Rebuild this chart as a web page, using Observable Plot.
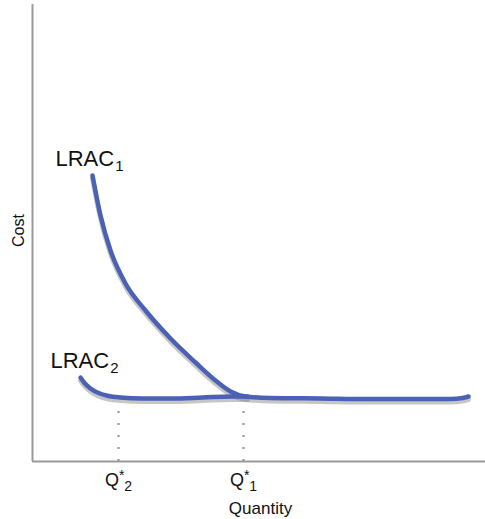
<!DOCTYPE html>
<html>
<head>
<meta charset="utf-8">
<script src="https://cdn.jsdelivr.net/npm/d3@7"></script>
<script src="https://cdn.jsdelivr.net/npm/@observablehq/plot@0.6"></script>
<style>
  html, body { margin: 0; padding: 0; background: #fff; }
  #chart svg { display: block; }
</style>
</head>
<body>
<div id="chart"></div>
<script>
// Quantity (x) and cost (y) in arbitrary chart units
const lrac1Q = [60, 68, 78, 93, 113, 138, 163, 183, 198, 213, 238, 288, 338, 388, 418, 430, 436];
const lrac1C = [286, 246, 211, 178, 151, 123, 99, 81, 70, 65, 63.5, 63, 62.5, 62.5, 62.5, 63.5, 65];
const lrac2Q = [48, 52, 58, 66, 76, 88, 110, 140, 170, 200, 215];
const lrac2C = [84, 78.5, 73, 68.5, 65.5, 64, 63, 63, 64, 65, 65];
const qStar = [86, 211];            // Q*2, Q*1
const qStarNames = ["2", "1"];
const guideTop = 60;

const curveLabels = [
  {name: "LRAC", sub: "1", q: 23, c: 296},
  {name: "LRAC", sub: "2", q: 18, c: 94}
];

const lrac1 = lrac1Q.map((q, i) => ({q, c: lrac1C[i]}));
const lrac2 = lrac2Q.map((q, i) => ({q, c: lrac2C[i]}));
const guides = qStar.map((q, i) => ({q, name: qStarNames[i]}));

const blue = "#4a61b6";
const font = "'Liberation Sans', Arial, Helvetica, sans-serif";

const plot = Plot.plot({
  width: 485,
  height: 519,
  marginLeft: 32,
  marginRight: 0,
  marginTop: 4,
  marginBottom: 58,
  x: {domain: [0, 453], axis: null},
  y: {domain: [0, 457], axis: null},
  style: {fontFamily: font, background: "white", overflow: "visible"},
  marks: [
    // dotted guides
    Plot.ruleX(guides, {x: "q", y1: 0, y2: guideTop, stroke: "#a0a0a0", strokeWidth: 2.4, strokeDasharray: "2,10"}),
    // axes
    Plot.ruleX([0], {stroke: "#9a9a9a", strokeWidth: 2}),
    Plot.ruleY([0], {stroke: "#9a9a9a", strokeWidth: 2}),
    // shadows
    Plot.line(lrac2, {x: "q", y: "c", curve: "monotone-x", stroke: "#808080", strokeOpacity: 0.45, strokeWidth: 5, dy: 3}),
    Plot.line(lrac1, {x: "q", y: "c", curve: "monotone-x", stroke: "#808080", strokeOpacity: 0.45, strokeWidth: 5, dy: 3}),
    // curves
    Plot.line(lrac2, {x: "q", y: "c", curve: "monotone-x", stroke: blue, strokeWidth: 4.5, strokeLinecap: "round"}),
    Plot.line(lrac1, {x: "q", y: "c", curve: "monotone-x", stroke: blue, strokeWidth: 4.5, strokeLinecap: "round"}),
    // curve labels
    Plot.text(curveLabels, {x: "q", y: "c", text: d => d.name + "|" + d.sub, textAnchor: "start", lineAnchor: "bottom", fontSize: 22, fill: "#111"}),
    // Q* labels
    Plot.text(guides, {x: "q", y: -24, text: d => "Q|*|" + d.name, textAnchor: "middle", lineAnchor: "bottom", fontSize: 18, fill: "#111"}),
    // axis titles
    Plot.text(["Quantity"], {x: 228, y: -52, text: d => d, textAnchor: "middle", lineAnchor: "bottom", fontSize: 17, fill: "#111"}),
    Plot.text(["Cost"], {x: -14, y: 231, text: d => d, rotate: -90, textAnchor: "middle", lineAnchor: "middle", fontSize: 16, fill: "#111"})
  ]
});

// turn "base|sub" or "base|sup|sub" into tspans with sub/superscripts
plot.querySelectorAll("text").forEach(t => {
  const s = t.textContent;
  if (!s.includes("|")) return;
  const parts = s.split("|");
  const fs = parseFloat(t.getAttribute("font-size") || t.parentNode.getAttribute("font-size") || 16);
  t.textContent = "";
  const ns = "http://www.w3.org/2000/svg";
  const base = document.createElementNS(ns, "tspan");
  base.textContent = parts[0];
  t.appendChild(base);
  if (parts.length === 2) {
    const sub = document.createElementNS(ns, "tspan");
    sub.textContent = parts[1];
    sub.setAttribute("font-size", Math.round(fs * 0.7));
    sub.setAttribute("dy", (fs * 0.25).toFixed(1));
    sub.setAttribute("dx", "1");
    t.appendChild(sub);
  } else {
    const sup = document.createElementNS(ns, "tspan");
    sup.textContent = parts[1];
    sup.setAttribute("font-size", Math.round(fs * 0.75));
    sup.setAttribute("dy", (-fs * 0.3).toFixed(1));
    t.appendChild(sup);
    const sub = document.createElementNS(ns, "tspan");
    sub.textContent = parts[2];
    sub.setAttribute("font-size", Math.round(fs * 0.75));
    sub.setAttribute("dy", (fs * 0.6).toFixed(1));
    t.appendChild(sub);
  }
});

document.getElementById("chart").appendChild(plot);
</script>
</body>
</html>
